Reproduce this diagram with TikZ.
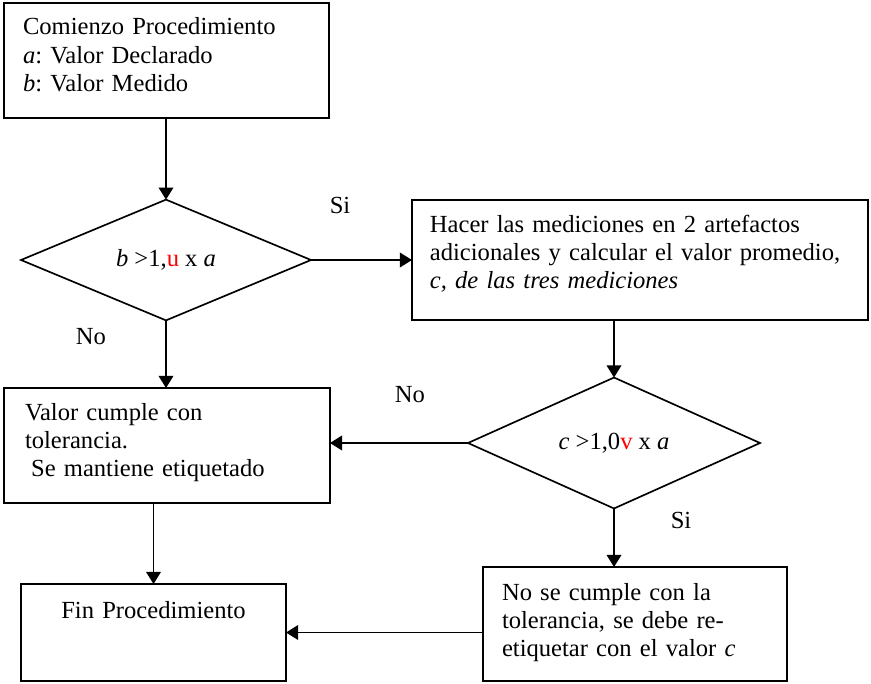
\documentclass[tikz,border=0pt]{standalone}
\usepackage{fontspec}
\setmainfont{Liberation Serif}
\usepackage{tikz}
\usetikzlibrary{shapes.geometric,arrows.meta}

\begin{document}
\begin{tikzpicture}[x=0.48pt, y=-0.48pt,
        font=\fontsize{11.8pt}{13.5pt}\selectfont\frenchspacing,
        caja/.style={draw, line width=0.8pt, anchor=north west, align=left, inner ysep=0pt, outer sep=0pt},
        decision/.style={draw, line width=0.8pt, shape=diamond, inner sep=0pt, outer sep=0pt},
        flecha/.style={line width=0.8pt, -{Triangle[length=5.8pt, width=7pt]}},
        etiqueta/.style={inner sep=0pt}]
        \useasboundingbox (0, 0) rectangle (871, 683);
        \node[caja, inner xsep=9.12pt, text width=137.76pt, text height=15.36pt, text depth=39.84pt] (inicio) at (4, 3) {Comienzo Procedimiento\\ \textit{a}: Valor Declarado\\ \textit{b}: Valor Medido};
        \node[decision, minimum width=139.2pt, minimum height=48pt] (d1) at (166, 260) {\textit{b} >1,\textcolor{red}{u} x \textit{a}};
        \node[caja, inner xsep=8.6pt, text width=201.7pt, text height=15.36pt, text depth=42.24pt] (medir) at (412, 200) {Hacer las mediciones en 2 artefactos\\ adicionales y calcular el valor promedio,\\ \textit{c, de las tres mediciones}};
        \node[caja, inner xsep=10.08pt, text width=136.3pt, text height=15.36pt, text depth=39.84pt] (cumple) at (4, 388) {Valor cumple con\\ tolerancia.\\ \hspace*{0.25em}Se mantiene etiquetado};
        \node[decision, minimum width=140.2pt, minimum height=48pt] (d2) at (614, 443) {\textit{c} >1,0\textcolor{red}{v} x \textit{a}};
        \node[caja, inner xsep=9.12pt, text width=127.7pt, text height=15.84pt, text depth=38.88pt] (nocumple) at (483, 567) {No se cumple con la\\ tolerancia, se debe re-\\ etiquetar con el valor \textit{c}};
        \node[caja, align=center, inner xsep=0pt, text width=127.2pt, text height=16.32pt, text depth=30.24pt] (fin) at (21, 584) {Fin Procedimiento};
        \node[etiqueta] (si1) at (340, 205) {Si};
        \node[etiqueta] (no1) at (91, 337) {No};
        \node[etiqueta] (no2) at (410, 395) {No};
        \node[etiqueta] (si2) at (681, 520) {Si};
        \draw[flecha] (inicio.south -| d1.north) to (d1.north);
        \draw[flecha] (d1.east) to (d1.east -| medir.west);
        \draw[flecha] (d1.south) to (d1.south |- cumple.north);
        \draw[flecha] (d2.north |- medir.south) to (d2.north);
        \draw[flecha] (d2.west) to (d2.west -| cumple.east);
        \draw[flecha] (d2.south) to (d2.south |- nocumple.north);
        \draw[flecha] (fin.north |- cumple.south) to (fin.north);
        \draw[flecha] (fin.east -| nocumple.west) to (fin.east);
    \end{tikzpicture}
\end{document}
